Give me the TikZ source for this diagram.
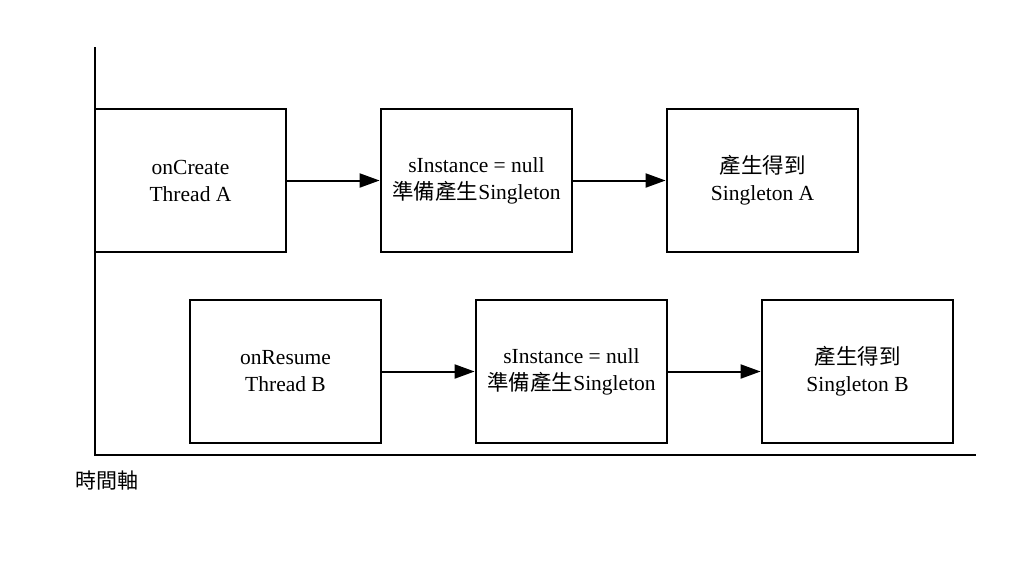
\documentclass[tikz,border=0pt]{standalone}
\usepackage{fontspec}
\setmainfont{Liberation Serif}
\newfontfamily\cjk{Noto Sans CJK TC}
\usetikzlibrary{arrows.meta}
\begin{document}
\begin{tikzpicture}[x=1pt,y=-1pt,
  boxstyle/.style={draw=black,line width=2.8pt,minimum width=191pt,minimum height=143pt,inner sep=0pt,align=center,font=\fontsize{21.5}{27}\selectfont},
  arrowstyle/.style={draw=black,line width=2pt,-{Triangle[length=20pt,width=14pt]}},
  axisstyle/.style={draw=black,line width=2.8pt}]
\useasboundingbox (0,0) rectangle (1024,563);
\coordinate (top) at (95,47);
\coordinate (origin) at (95,455);
\coordinate (xend) at (976,455);
\draw[axisstyle] (top) -- (origin) -- (xend);
\node[boxstyle] (a1) at (190.5,180.5) {onCreate\\Thread A};
\node[boxstyle] (a2) at (476.5,180.5) {sInstance = null\\{\cjk 準備產生}Singleton};
\node[boxstyle] (a3) at (762.5,180.5) {{\cjk 產生得到}\\Singleton A};
\node[boxstyle] (b1) at (285.5,371.5) {onResume\\Thread B};
\node[boxstyle] (b2) at (571.5,371.5) {sInstance = null\\{\cjk 準備產生}Singleton};
\node[boxstyle] (b3) at (857.5,371.5) {{\cjk 產生得到}\\Singleton B};
\draw[arrowstyle] (a1) -- (a2);
\draw[arrowstyle] (a2) -- (a3);
\draw[arrowstyle] (b1) -- (b2);
\draw[arrowstyle] (b2) -- (b3);
\node[anchor=west,inner sep=0pt,font=\cjk\fontsize{21}{24}\selectfont] (lbl) at (75,481) {時間軸};
\end{tikzpicture}
\end{document}
